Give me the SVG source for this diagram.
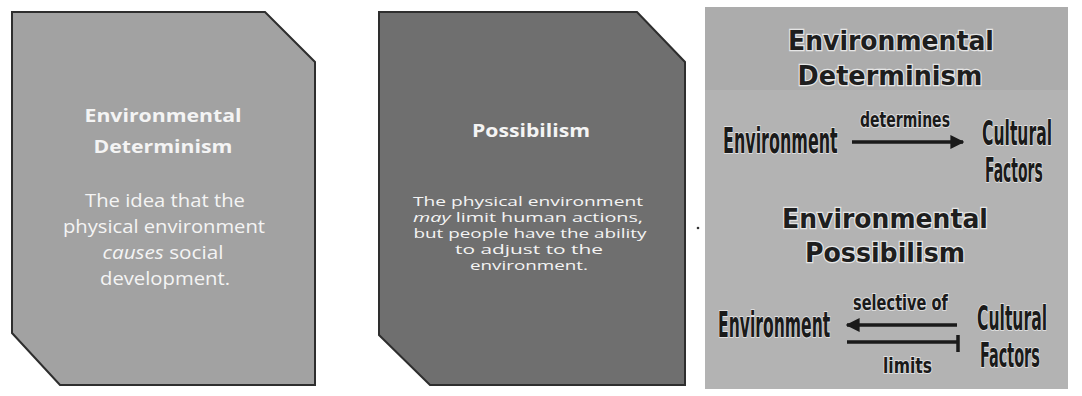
<svg xmlns="http://www.w3.org/2000/svg" width="1082" height="396" viewBox="0 0 1082 396">
<style>
.card{stroke:#2e2e2e;stroke-width:2;stroke-linejoin:miter}
.ttl{font-family:"Open Sans","Noto Sans",sans-serif;font-weight:bold;fill:#f4f4f4;text-anchor:middle}
.body{font-family:"Open Sans","Noto Sans",sans-serif;fill:#f4f4f4;text-anchor:middle}
.head{font-family:"DejaVu Sans",sans-serif;font-weight:bold;font-size:27px;fill:#1e1e1e;text-anchor:middle;stroke:#e6e6e6;stroke-width:2.5;paint-order:stroke}
.hand{font-family:"Liberation Sans Narrow","DejaVu Sans Condensed",sans-serif;font-weight:bold;fill:#1a1a1a;stroke:#dedede;stroke-width:2;paint-order:stroke}
.big{font-size:36px}
.mid{font-size:33px}
.lbl{font-size:22px}
.conn{stroke:#1a1a1a;stroke-width:3.5;fill:none}
</style>
<defs>
<marker id="ah" viewBox="0 0 10 10" refX="9" refY="5" markerWidth="4" markerHeight="4" orient="auto-start-reverse">
<path d="M0,0 L10,5 L0,10 z" fill="#1a1a1a"/>
</marker>
</defs>
<rect width="1082" height="396" fill="#ffffff"/>

<g id="card-determinism">
<path class="card" fill="#a2a2a2" d="M12,12 L265,12 L315,62 L315,385 L60,385 L12,333 Z"/>
<text class="ttl" font-size="18" x="163" y="122" textLength="157" lengthAdjust="spacingAndGlyphs">Environmental</text>
<text class="ttl" font-size="18" x="163" y="153" textLength="139" lengthAdjust="spacingAndGlyphs">Determinism</text>
<text class="body" font-size="18" x="165" y="207" textLength="160" lengthAdjust="spacingAndGlyphs">The idea that the</text>
<text class="body" font-size="18" x="164" y="233" textLength="202" lengthAdjust="spacingAndGlyphs">physical environment</text>
<text class="body" font-size="18" x="163" y="259" textLength="121" lengthAdjust="spacingAndGlyphs"><tspan font-style="italic">causes</tspan> social</text>
<text class="body" font-size="18" x="165" y="285" textLength="130" lengthAdjust="spacingAndGlyphs">development.</text>
</g>

<g id="card-possibilism">
<path class="card" fill="#6f6f6f" d="M379,12 L637,12 L685,62 L685,385 L430,385 L379,335 Z"/>
<text class="ttl" font-size="18" x="531" y="137" textLength="118" lengthAdjust="spacingAndGlyphs">Possibilism</text>
<text class="body" font-size="13.5" x="528" y="206" textLength="230" lengthAdjust="spacingAndGlyphs">The physical environment</text>
<text class="body" font-size="13.5" x="528" y="222" textLength="230" lengthAdjust="spacingAndGlyphs"><tspan font-style="italic">may</tspan> limit human actions,</text>
<text class="body" font-size="13.5" x="530" y="238" textLength="233" lengthAdjust="spacingAndGlyphs">but people have the ability</text>
<text class="body" font-size="13.5" x="529" y="254" textLength="148" lengthAdjust="spacingAndGlyphs">to adjust to the</text>
<text class="body" font-size="13.5" x="529" y="270" textLength="118" lengthAdjust="spacingAndGlyphs">environment.</text>
</g>

<g id="panel">
<rect x="705" y="7" width="363" height="382" fill="#b3b3b3"/>
<rect x="705" y="7" width="363" height="83" fill="#acacac"/>
<circle cx="698" cy="228" r="1.3" fill="#333"/>
</g>

<g id="title-det">
<text class="head" transform="translate(891,50) scale(0.88,1)" x="0" y="0" textLength="234" lengthAdjust="spacingAndGlyphs">Environmental</text>
<text class="head" transform="translate(890,85) scale(0.88,1)" x="0" y="0" textLength="210" lengthAdjust="spacingAndGlyphs">Determinism</text>
</g>
<g id="node-env1"><text class="hand big" transform="translate(723,153) scale(0.62,1)" x="0" y="0" textLength="185" lengthAdjust="spacingAndGlyphs">Environment</text></g>
<g id="node-cult1">
<text class="hand mid" transform="translate(982,145) scale(0.68,1)" x="0" y="0" textLength="103" lengthAdjust="spacingAndGlyphs">Cultural</text>
<text class="hand mid" transform="translate(985,182) scale(0.68,1)" x="0" y="0" textLength="85" lengthAdjust="spacingAndGlyphs">Factors</text>
</g>

<g id="title-pos">
<text class="head" transform="translate(885,228) scale(0.88,1)" x="0" y="0" textLength="234" lengthAdjust="spacingAndGlyphs">Environmental</text>
<text class="head" transform="translate(885,262) scale(0.88,1)" x="0" y="0" textLength="182" lengthAdjust="spacingAndGlyphs">Possibilism</text>
</g>
<g id="node-env2"><text class="hand big" transform="translate(718,337) scale(0.62,1)" x="0" y="0" textLength="181" lengthAdjust="spacingAndGlyphs">Environment</text></g>
<g id="node-cult2">
<text class="hand mid" transform="translate(977,330) scale(0.68,1)" x="0" y="0" textLength="103" lengthAdjust="spacingAndGlyphs">Cultural</text>
<text class="hand mid" transform="translate(980,367) scale(0.68,1)" x="0" y="0" textLength="88" lengthAdjust="spacingAndGlyphs">Factors</text>
</g>

<g id="connectors">
<line class="conn" x1="852" y1="142" x2="963" y2="142" marker-end="url(#ah)"/>
<text class="hand lbl" transform="translate(860,127) scale(0.9,1)" x="0" y="0" textLength="100" lengthAdjust="spacingAndGlyphs">determines</text>
<line class="conn" x1="957" y1="325" x2="847" y2="325" marker-end="url(#ah)"/>
<text class="hand lbl" transform="translate(853,310) scale(0.9,1)" x="0" y="0" textLength="105.5" lengthAdjust="spacingAndGlyphs">selective of</text>
<line class="conn" x1="847" y1="342" x2="958" y2="342"/>
<line class="conn" x1="958" y1="335" x2="958" y2="352" stroke-width="2.5"/>
<text class="hand lbl" transform="translate(883,373) scale(0.9,1)" x="0" y="0" textLength="54.5" lengthAdjust="spacingAndGlyphs">limits</text>
</g>
</svg>
